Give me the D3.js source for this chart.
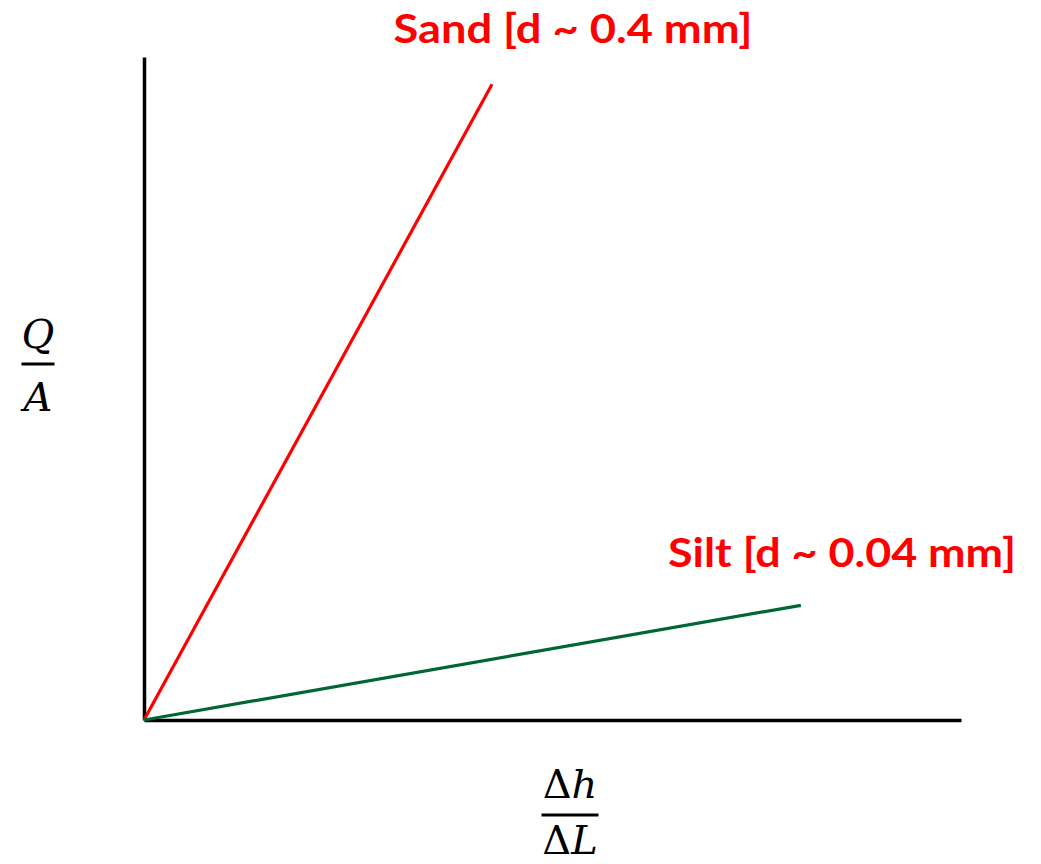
<!DOCTYPE html>
<html>
<head>
<meta charset="utf-8">
<script src="https://cdn.jsdelivr.net/npm/d3@7"></script>
<style>
  html, body { margin: 0; padding: 0; background: #fff; }
  svg { display: block; }
</style>
</head>
<body>
<svg id="chart"></svg>
<script>
const width = 1041;
const height = 864;
const margin = { top: 57, left: 144, bottom: 144, right: 80 };

// series: each line runs from the origin to its end point
const seriesNames = ["Sand [d ~ 0.4 mm]", "Silt [d ~ 0.04 mm]"];
const seriesColors = ["#ff0000", "#006633"];
const seriesX = [[0, 4.26], [0, 8.04]];
const seriesY = [[0, 9.59], [0, 1.73]];

const xDomain = [0, 10];
const yDomain = [0, 10];

const svg = d3.select("#chart")
  .attr("width", width)
  .attr("height", height);

const xScale = d3.scaleLinear()
  .domain(xDomain)
  .range([margin.left, width - margin.right]);

const yScale = d3.scaleLinear()
  .domain(yDomain)
  .range([height - margin.bottom, margin.top]);

// axes, no ticks
const xAxis = d3.axisBottom(xScale).tickValues([]).tickSizeOuter(0);
const yAxis = d3.axisLeft(yScale).tickValues([]).tickSizeOuter(0);

svg.append("g")
    .attr("transform", `translate(0,${yScale(0)})`)
  .call(xAxis)
  .select(".domain")
    .attr("stroke", "#000")
    .attr("stroke-width", 3.5);

svg.append("g")
    .attr("transform", `translate(${xScale(0)},0)`)
  .call(yAxis)
  .select(".domain")
    .attr("stroke", "#000")
    .attr("stroke-width", 3.5);

// lines
const line = d3.line()
  .x(d => xScale(d[0]))
  .y(d => yScale(d[1]));

seriesNames.forEach((name, i) => {
  const pts = seriesX[i].map((x, j) => [x, seriesY[i][j]]);
  svg.append("path")
    .datum(pts)
    .attr("fill", "none")
    .attr("stroke", seriesColors[i])
    .attr("stroke-width", 3.2)
    .attr("d", line);
});

// series labels
svg.append("text")
  .attr("x", 573)
  .attr("y", 43)
  .attr("text-anchor", "middle")
  .attr("fill", "#ff0000")
  .style("font-family", "Lato, 'Open Sans', sans-serif")
  .style("font-weight", "700")
  .style("font-size", "40px")
  .attr("textLength", 359)
  .attr("lengthAdjust", "spacingAndGlyphs")
  .text(seriesNames[0]);

svg.append("text")
  .attr("x", 842)
  .attr("y", 567)
  .attr("text-anchor", "middle")
  .attr("fill", "#ff0000")
  .style("font-family", "Lato, 'Open Sans', sans-serif")
  .style("font-weight", "700")
  .style("font-size", "40px")
  .attr("textLength", 348)
  .attr("lengthAdjust", "spacingAndGlyphs")
  .text(seriesNames[1]);

// fraction labels
function fraction(cx, numY, barY, denY, barW, top, bottom) {
  const g = svg.append("g")
    .style("font-family", "'DejaVu Serif', 'Liberation Serif', serif")
    .style("font-size", "40px");
  g.append("text")
    .attr("x", cx).attr("y", numY)
    .attr("text-anchor", "middle")
    .html(top);
  g.append("line")
    .attr("x1", cx - barW / 2).attr("x2", cx + barW / 2)
    .attr("y1", barY).attr("y2", barY)
    .attr("stroke", "#000")
    .attr("stroke-width", 3);
  g.append("text")
    .attr("x", cx).attr("y", denY)
    .attr("text-anchor", "middle")
    .html(bottom);
}

fraction(38, 348, 364, 411, 33,
  '<tspan font-style="italic">Q</tspan>',
  '<tspan font-style="italic">A</tspan>');

fraction(570, 798, 815, 854, 57,
  'Δ<tspan font-style="italic">h</tspan>',
  'Δ<tspan font-style="italic">L</tspan>');
</script>
</body>
</html>
